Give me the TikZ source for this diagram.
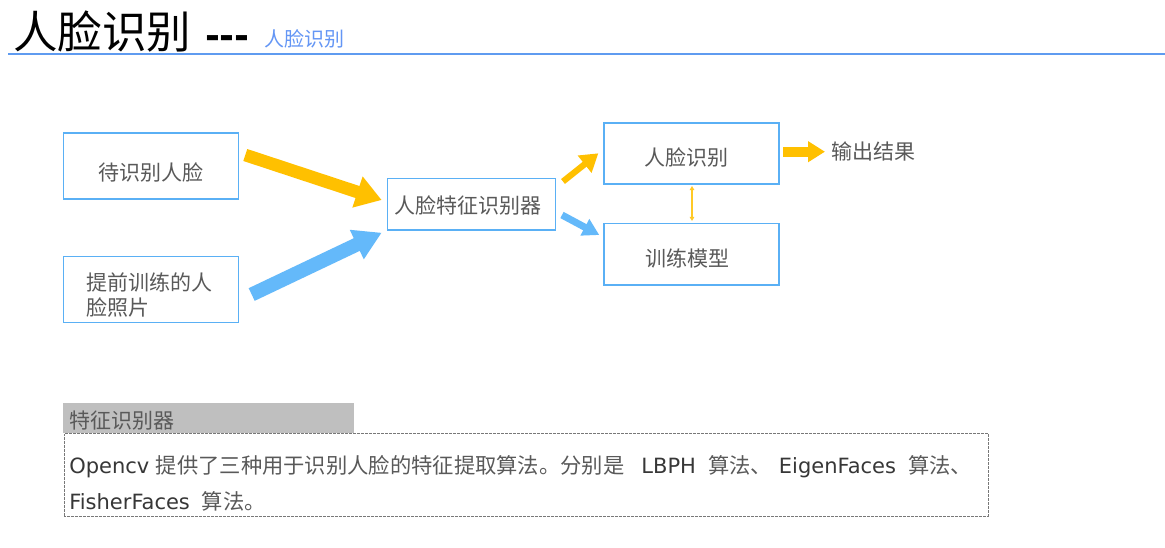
\documentclass[tikz,border=0pt]{standalone}
\usepackage{fontspec}
\setmainfont{Noto Sans CJK SC}
\newfontfamily\dv{DejaVu Sans}
\usetikzlibrary{arrows.meta,calc}
\definecolor{boxblue}{RGB}{90,176,245}
\definecolor{lineblue}{RGB}{95,155,240}
\definecolor{subblue}{RGB}{100,150,245}
\definecolor{arY}{RGB}{255,192,0}
\definecolor{arB}{RGB}{100,185,250}
\definecolor{txtgrey}{RGB}{89,89,89}
\definecolor{txtdark}{RGB}{55,55,55}
\definecolor{hdrgrey}{RGB}{191,191,191}
\definecolor{dotgrey}{RGB}{120,120,120}
\begin{document}
\begin{tikzpicture}[x=1pt,y=-1pt,
  box/.style={draw=boxblue, line width=1.3pt, inner sep=0pt, outer sep=0pt,
    minimum width=175pt, text=txtgrey, font=\fontsize{21}{25}\selectfont, text depth=1.5pt},
  fat/.style args={#1/#2/#3/#4}{draw=#1, line width=#2, -{Triangle[length=#3,width=#4]}},
  plain/.style={inner sep=0pt, outer sep=0pt}]
\fill[white] (0,0) rectangle (1165,547);
\useasboundingbox (0,0) rectangle (1165,547);

% title
\node[plain, anchor=base west, font=\fontsize{44.5}{50}\selectfont, text=black] (title) at (13,48.5) {人脸识别\hspace{14pt}{\dv\bfseries\fontsize{36}{40}\selectfont -{}-{}-}};
\node[plain, anchor=base west, font=\fontsize{20}{24}\selectfont, text=subblue] (subtitle) at (264.5,46.7) {人脸识别};
\draw[lineblue, line width=1.5pt] (8,54) -- (1165,54);

% boxes
\node[box, minimum height=66pt, text height=31.4pt] (A) at (150.8,166) {待识别人脸};
\node[box, minimum height=66pt, text width=129.6pt, align=left, text height=26pt, text depth=25pt] (B) at (150.8,289.7) {提前训练的人\\脸照片};
\node[box, minimum width=168pt, minimum height=51.7pt, text height=20.4pt] (C) at (471.5,204.2) {人脸特征识别器\kern8pt};
\node[box, minimum height=61pt, text height=25.4pt] (D) at (691.5,153.5) {人脸识别\kern10pt};
\node[box, minimum height=61.5pt, text height=25.4pt] (E) at (691.5,254.2) {训练模型\kern9pt};
\node[plain, anchor=west, font=\fontsize{21}{25}\selectfont, text=txtgrey, text height=17.4pt, text depth=1.5pt] (out) at (831,151.7) {输出结果};

% arrows
\draw[fat=arY/12.6pt/25.5pt/31pt] ($(A.east)+(7,-11)$) -- ($(C.west)+(-5.8,-4.2)$);
\draw[fat=arB/14pt/27.6pt/30.6pt] ($(B.east)+(13.4,4.8)$) -- ($(C.west)+(-5.8,28.5)$);
\draw[fat=arY/6.2pt/17.5pt/21pt] ($(C.east)+(7.5,-22.7)$) -- ($(D.west)+(-5.7,-0.2)$);
\draw[fat=arB/7pt/16.4pt/17.7pt] ($(C.east)+(6.5,10.8)$) -- ($(E.west)+(-4.7,-19.2)$);
\draw[fat=arY/10pt/17pt/20pt] ($(D.east)+(4,-1.8)$) -- ($(out.west)+(-6,0)$);
\draw[arY!85!white, line width=1.5pt, {Triangle[length=4pt,width=4.5pt]}-{Triangle[length=4pt,width=4.5pt]}] ($(D.south)+(0.5,2)$) -- ($(E.north)+(0.5,-2.5)$);

% bottom panel
\node[fill=hdrgrey, minimum width=290.7pt, minimum height=30pt, inner xsep=6.5pt, inner ysep=0pt, outer sep=0pt,
  text width=277.7pt, align=left, text height=21.8pt, text depth=1.5pt,
  font=\fontsize{21}{25}\selectfont, text=txtgrey] (hdr) at (208.7,418) {特征识别器};
\node[draw=dotgrey, line width=0.8pt, dash pattern=on 1.5pt off 1pt on 0.5pt off 1pt,
  minimum width=924.2pt, minimum height=83pt, inner xsep=5pt, inner ysep=0pt, outer sep=0pt,
  text width=914.2pt, align=left, text height=20pt, text depth=24pt,
  font=\fontsize{21.3}{36.5}\selectfont, text=txtgrey] (body) at (526.4,475)
  {{\dv\fontsize{21}{36.5}\selectfont\color{txtdark}Opencv}\hspace{6.5pt}提供了三种用于识别人脸的特征提取算法。分别是\hspace{17pt}{\dv\fontsize{21}{36.5}\selectfont\color{txtdark}LBPH}\hspace{12pt}算法、\hspace{7pt}{\dv\fontsize{21}{36.5}\selectfont\color{txtdark}EigenFaces}\hspace{12pt}算法、\\{\dv\fontsize{21}{36.5}\selectfont\color{txtdark}FisherFaces}\hspace{12pt}算法。};
\end{tikzpicture}
\end{document}
